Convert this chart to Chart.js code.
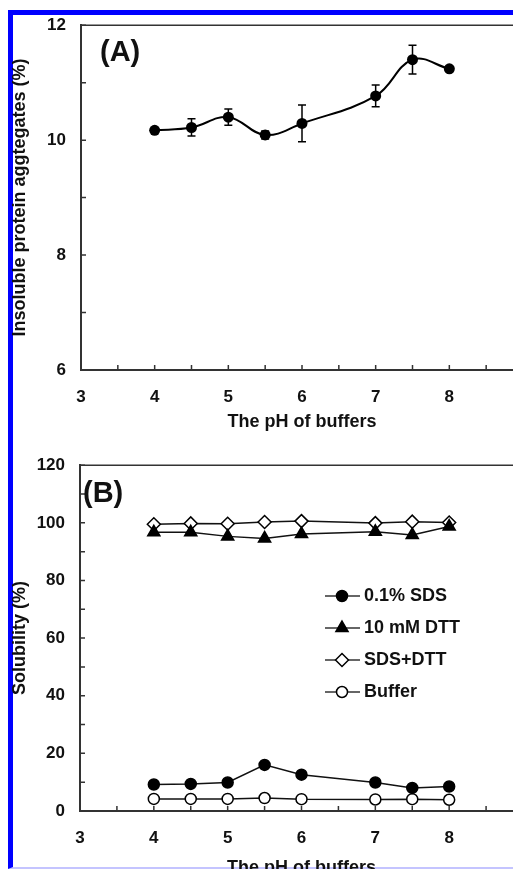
<!DOCTYPE html>
<html>
<head>
<meta charset="utf-8">
<script src="https://cdn.jsdelivr.net/npm/chart.js@4.4.0/dist/chart.umd.min.js"></script>
<style>
  html, body { margin: 0; padding: 0; background: #fff; overflow: hidden; }
  #page { position: relative; width: 513px; height: 869px; overflow: hidden; }
  #frame {
    position: absolute; left: 8px; top: 10px; width: 600px; height: 852px;
    border-left: 5px solid #0000ff; border-top: 5px solid #0000ff; border-bottom: 2px solid #c4c4ff;
  }
  canvas { position: absolute; left: 0; }
  #chart-a { top: 0; }
  #chart-b { top: 440px; }
</style>
</head>
<body>
<div id="page">
  <div id="frame"></div>
  <canvas id="chart-a" width="560" height="440"></canvas>
  <canvas id="chart-b" width="560" height="460"></canvas>
</div>
<script>
// panel A
const phA = [4, 4.5, 5, 5.5, 6, 7, 7.5, 8];
const aggregates = [10.17, 10.22, 10.40, 10.09, 10.29, 10.77, 11.40, 11.24];
const aggregatesErr = [0, 0.15, 0.14, 0.07, 0.32, 0.19, 0.25, 0];

// panel B
const phB = [4, 4.5, 5, 5.5, 6, 7, 7.5, 8];
const sdsValues = [9.2, 9.4, 9.9, 16.0, 12.6, 9.9, 8.0, 8.5];
const dttValues = [96.7, 96.7, 95.3, 94.6, 96.1, 96.9, 95.8, 98.7];
const sdsDttValues = [99.5, 99.8, 99.7, 100.3, 100.6, 99.9, 100.4, 100.1];
const bufferValues = [4.2, 4.2, 4.2, 4.5, 4.1, 4.0, 4.1, 3.9];
const seriesLabels = ["0.1% SDS", "10 mM DTT", "SDS+DTT", "Buffer"];

// tick labels
const xTickLabels = [3, 4, 5, 6, 7, 8];
const yTickLabelsA = [6, 8, 10, 12];
const yTickLabelsB = [0, 20, 40, 60, 80, 100, 120];

Chart.defaults.font.family = "'Liberation Sans', Arial, sans-serif";
Chart.defaults.color = "#111";

const toPoints = (xs, ys) => xs.map((x, i) => ({ x: x, y: ys[i] }));

// tick marks pointing into the plot + top frame line
const innerTicks = {
  id: "innerTicks",
  afterDraw(chart) {
    const { ctx, chartArea, scales } = chart;
    ctx.save();
    ctx.strokeStyle = "#333";
    ctx.lineWidth = 1.5;
    ctx.beginPath();
    scales.x.ticks.forEach((t) => {
      const x = scales.x.getPixelForValue(t.value);
      if (x <= chartArea.left + 1) return;
      ctx.moveTo(x, chartArea.bottom);
      ctx.lineTo(x, chartArea.bottom - 5);
    });
    scales.y.ticks.forEach((t) => {
      const y = scales.y.getPixelForValue(t.value);
      if (y >= chartArea.bottom - 1) return;
      ctx.moveTo(chartArea.left, y);
      ctx.lineTo(chartArea.left + 5, y);
    });
    ctx.stroke();
    ctx.beginPath();
    ctx.moveTo(chartArea.left, chartArea.top);
    ctx.lineTo(chartArea.right, chartArea.top);
    ctx.stroke();
    ctx.restore();
  },
};

const errorBars = {
  id: "errorBars",
  afterDatasetsDraw(chart, args, opts) {
    if (!opts.errors) return;
    const { ctx, scales } = chart;
    const meta = chart.getDatasetMeta(0);
    const values = chart.data.datasets[0].data;
    ctx.save();
    ctx.strokeStyle = "#000";
    ctx.lineWidth = 1.5;
    meta.data.forEach((pt, i) => {
      const e = opts.errors[i];
      if (!e) return;
      const top = scales.y.getPixelForValue(values[i].y + e);
      const bot = scales.y.getPixelForValue(values[i].y - e);
      ctx.beginPath();
      ctx.moveTo(pt.x, top);
      ctx.lineTo(pt.x, bot);
      ctx.moveTo(pt.x - 4, top);
      ctx.lineTo(pt.x + 4, top);
      ctx.moveTo(pt.x - 4, bot);
      ctx.lineTo(pt.x + 4, bot);
      ctx.stroke();
    });
    ctx.restore();
  },
};

const panelLabel = {
  id: "panelLabel",
  afterDraw(chart, args, opts) {
    const { ctx } = chart;
    ctx.save();
    ctx.font = "bold 29px 'Liberation Sans', Arial, sans-serif";
    ctx.fillStyle = "#111";
    ctx.textAlign = "left";
    ctx.textBaseline = "middle";
    ctx.fillText(opts.text, opts.x, opts.y);
    ctx.restore();
  },
};

// legend with line + marker sample
const lineLegend = {
  id: "lineLegend",
  afterDraw(chart, args, opts) {
    if (!opts.x) return;
    const { ctx } = chart;
    ctx.save();
    chart.data.datasets.forEach((ds, i) => {
      const y = opts.y + i * opts.gap;
      ctx.strokeStyle = "#333";
      ctx.lineWidth = 1.5;
      ctx.beginPath();
      ctx.moveTo(opts.x, y);
      ctx.lineTo(opts.x + 35, y);
      ctx.stroke();
      ctx.fillStyle = ds.pointBackgroundColor;
      ctx.strokeStyle = ds.pointBorderColor;
      ctx.lineWidth = ds.pointBorderWidth;
      Chart.helpers.drawPoint(ctx, {
        pointStyle: ds.pointStyle,
        radius: ds.pointRadius,
        rotation: 0,
        borderWidth: ds.pointBorderWidth,
      }, opts.x + 17, y);
      ctx.font = "bold 18px 'Liberation Sans', Arial, sans-serif";
      ctx.fillStyle = "#111";
      ctx.textAlign = "left";
      ctx.textBaseline = "middle";
      ctx.fillText(ds.label, opts.x + 39, y);
    });
    ctx.restore();
  },
};

function xScale(titlePad) {
  return {
    type: "linear",
    min: 3,
    max: 9,
    afterFit(scale) { scale.height = 70; },
    grid: { display: false, drawTicks: false },
    border: { color: "#333", width: 2 },
    ticks: {
      stepSize: 0.5,
      padding: 17,
      color: "#111",
      font: { size: 17, weight: "bold" },
      callback: (v) => (xTickLabels.includes(v) ? v : ""),
    },
    title: {
      display: true,
      text: "The pH of buffers",
      color: "#111",
      font: { size: 18, weight: "bold" },
      padding: { top: 0, bottom: titlePad },
    },
  };
}

function yScale(min, max, step, labels, title, width) {
  return {
    min: min,
    max: max,
    afterFit(scale) { scale.width = width; },
    grid: { display: false, drawTicks: false },
    border: { color: "#333", width: 2 },
    ticks: {
      stepSize: step,
      padding: 15,
      color: "#111",
      font: { size: 17, weight: "bold" },
      callback: (v) => (labels.includes(v) ? v : ""),
    },
    title: {
      display: true,
      text: title,
      color: "#111",
      font: { size: 18, weight: "bold" },
      padding: { top: 9, bottom: 0 },
    },
  };
}

new Chart(document.getElementById("chart-a"), {
  type: "line",
  data: {
    datasets: [
      {
        label: "aggregates",
        data: toPoints(phA, aggregates),
        borderColor: "#000",
        borderWidth: 2,
        tension: 0.4,
        pointRadius: 5.5,
        pointBackgroundColor: "#000",
        pointBorderColor: "#000",
        pointBorderWidth: 0,
      },
    ],
  },
  options: {
    responsive: false,
    animation: false,
    layout: { padding: { left: 0, top: 19, right: 37, bottom: 0 } },
    plugins: {
      legend: { display: false },
      tooltip: { enabled: false },
      errorBars: { errors: aggregatesErr },
      panelLabel: { text: "(A)", x: 100, y: 53 },
      lineLegend: {},
    },
    scales: {
      x: xScale(7),
      y: yScale(6, 12, 1, yTickLabelsA, "Insoluble protein aggtegates (%)", 81),
    },
  },
  plugins: [innerTicks, errorBars, panelLabel],
});

const seriesB = [
  { values: sdsValues, style: "circle", fill: "#000", radius: 5.5 },
  { values: dttValues, style: "triangle", fill: "#000", radius: 7 },
  { values: sdsDttValues, style: "rectRot", fill: "#fff", radius: 6.5 },
  { values: bufferValues, style: "circle", fill: "#fff", radius: 5.5 },
];

new Chart(document.getElementById("chart-b"), {
  type: "line",
  data: {
    datasets: seriesB.map((s, i) => ({
      label: seriesLabels[i],
      data: toPoints(phB, s.values),
      borderColor: "#111",
      borderWidth: 1.5,
      tension: 0,
      pointStyle: s.style,
      pointRadius: s.radius,
      pointBackgroundColor: s.fill,
      pointBorderColor: "#000",
      pointBorderWidth: 1.5,
    })),
  },
  options: {
    responsive: false,
    animation: false,
    layout: { padding: { left: 0, top: 18, right: 37, bottom: 19 } },
    plugins: {
      legend: { display: false },
      tooltip: { enabled: false },
      errorBars: {},
      panelLabel: { text: "(B)", x: 83, y: 54 },
      lineLegend: { x: 325, y: 156, gap: 32 },
    },
    scales: {
      x: xScale(2),
      y: yScale(0, 120, 5, yTickLabelsB, "Solubility (%)", 80),
    },
  },
  plugins: [innerTicks, panelLabel, lineLegend],
});
</script>
</body>
</html>
